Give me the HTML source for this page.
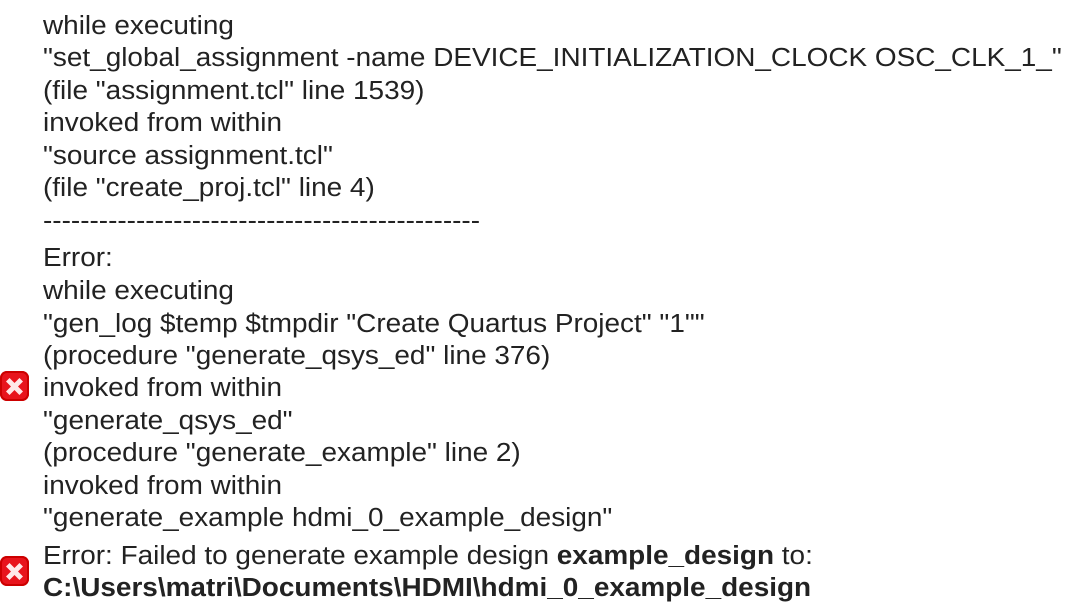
<!DOCTYPE html>
<html><head><style>
body{margin:0;width:1073px;height:607px;background:#fff;overflow:hidden;position:relative;font-family:"Liberation Sans",Arial,sans-serif;font-size:25.5px;color:#222}
.l{position:absolute;left:43px;white-space:nowrap;line-height:30px;transform:scaleX(1.095);transform-origin:0 0}
.ic{position:absolute;left:0px;width:29px;height:30px;border-radius:7px;background:#e8141c;box-shadow:inset 0 0 0 2px #c00}
.ic:before,.ic:after{content:"";position:absolute;left:5px;top:12.5px;width:19px;height:5px;background:#ffe8e8;transform:rotate(45deg)}
.ic:after{transform:rotate(-45deg)}
b{font-weight:bold}
</style></head><body>
<div class="l" style="top:11px">while executing</div>
<div class="l" style="top:43px">"set_global_assignment -name DEVICE_INITIALIZATION_CLOCK OSC_CLK_1_"</div>
<div class="l" style="top:76px">(file "assignment.tcl" line 1539)</div>
<div class="l" style="top:108px">invoked from within</div>
<div class="l" style="top:141px">"source assignment.tcl"</div>
<div class="l" style="top:173px">(file "create_proj.tcl" line 4)</div>
<div class="l" style="top:206px">-----------------------------------------------</div>
<div class="l" style="top:243px">Error:</div>
<div class="l" style="top:276px">while executing</div>
<div class="l" style="top:309px">"gen_log $temp $tmpdir "Create Quartus Project" "1""</div>
<div class="l" style="top:341px">(procedure "generate_qsys_ed" line 376)</div>
<div class="ic" style="top:371px"></div>
<div class="l" style="top:373px">invoked from within</div>
<div class="l" style="top:406px">"generate_qsys_ed"</div>
<div class="l" style="top:438px">(procedure "generate_example" line 2)</div>
<div class="l" style="top:471px">invoked from within</div>
<div class="l" style="top:503px">"generate_example hdmi_0_example_design"</div>
<div class="ic" style="top:556px"></div>
<div class="l" style="top:541px">Error: Failed to generate example design <b>example_design</b> to:</div>
<div class="l" style="top:573px"><b>C:\Users\matri\Documents\HDMI\hdmi_0_example_design</b></div>
</body></html>
